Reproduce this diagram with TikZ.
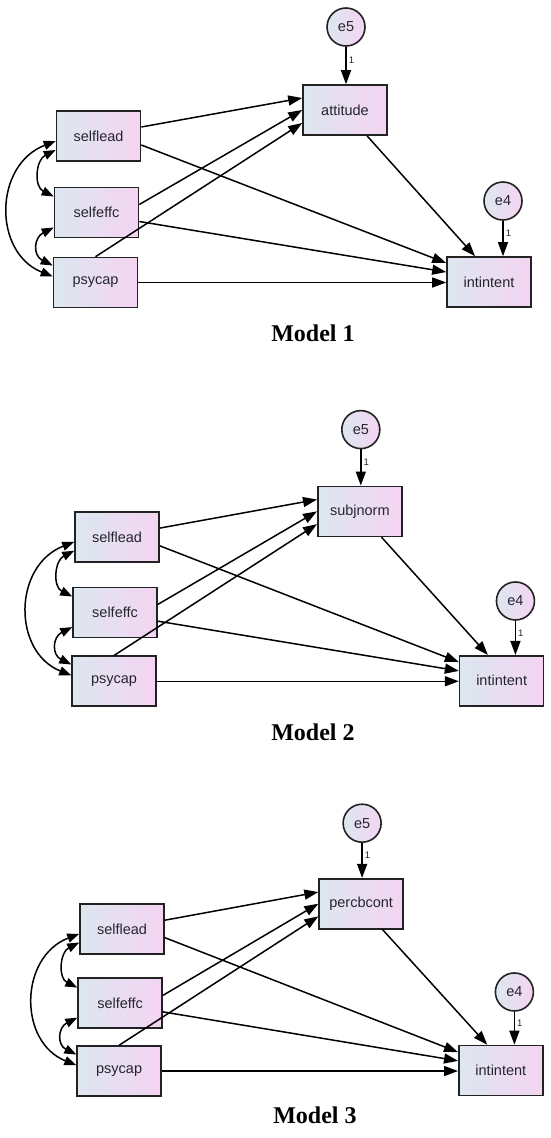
\documentclass[tikz,border=0pt]{standalone}
\usepackage{fontspec}
\setmainfont{Liberation Sans}
\newfontfamily\ttlfont{Liberation Serif}
\usetikzlibrary{arrows.meta}
\definecolor{semL}{HTML}{DDE7F0}
\definecolor{semR}{HTML}{F4D4F2}
\definecolor{semB}{HTML}{222222}
\definecolor{semT}{HTML}{25252F}
\tikzset{
 semvar/.style={draw=semB, line width=1.6pt, left color=semL, right color=semR,
   minimum width=84pt, minimum height=50pt, inner sep=0pt,
   font=\fontsize{14.5}{16}\selectfont, text=semT},
 semerr/.style={circle, draw=semB, line width=1.6pt, left color=semL, right color=semR,
   minimum size=38pt, inner sep=0pt, font=\fontsize{14.5}{16}\selectfont, text=semT},
 reg/.style={line width=1.5pt, -{Triangle[length=14pt,width=10pt]}},
 cov/.style={line width=1.5pt, {Triangle[length=12pt,width=9pt]}-{Triangle[length=12pt,width=9pt]}},
 one/.style={font=\fontsize{9.5}{10}\selectfont, right, inner sep=2pt, pos=0.36, text=semT},
 ttl/.style={font=\ttlfont\bfseries\fontsize{24}{26}\selectfont}
}
\newcommand{\semmodel}[2]{%
  \node[semvar] (#1sl) at (98.5,136) {selflead};
  \node[semvar] (#1se) at (96.5,212.5) {selfeffc};
  \node[semvar] (#1ps) at (95.5,282.5) {psycap};
  \node[semvar] (#1med) at (345,110) {#2};
  \node[semvar] (#1ii) at (489,282) {intintent};
  \node[semerr] (#1e5) at (346,27) {e5};
  \node[semerr] (#1e4) at (503,201) {e4};
  \draw[reg] (#1e5.south) -- (#1e5.south |- #1med.north) node[one] {1};
  \draw[reg] (#1e4.south) -- (#1e4.south |- #1ii.north) node[one] {1};
  \draw[reg] ([yshift=9pt]#1sl.east) -- ([yshift=12pt]#1med.west);
  \draw[reg] ([yshift=-9pt]#1sl.east) -- ([yshift=19pt]#1ii.west);
  \draw[reg] ([yshift=8pt]#1se.east) -- (#1med.west);
  \draw[reg] ([yshift=-9pt]#1se.east) -- ([yshift=10pt]#1ii.west);
  \draw[reg] (#1ps.north) -- ([yshift=-13pt]#1med.west);
  \draw[reg] (#1ps.east) -- (#1ps.east -| #1ii.west);
  \draw[reg] ([xshift=22pt]#1med.south) -- ([xshift=-14pt]#1ii.north);
  \draw[cov] ([yshift=-14pt]#1sl.west) .. controls +(-20,10) and +(-20,-10) .. ([yshift=16pt]#1se.west);
  \draw[cov] ([yshift=-15pt]#1se.west) .. controls +(-20,10) and +(-20,-10) .. ([yshift=17pt]#1ps.west);
  \draw[cov] ([yshift=-5pt]#1sl.west) .. controls +(-62,24) and +(-60,-24) .. ([yshift=6pt]#1ps.west);
}
\begin{document}
\begin{tikzpicture}[x=1pt,y=-1pt]
\useasboundingbox (0,0) rectangle (550,1138);
\semmodel{a}{attitude}
\begin{scope}[shift={(20,403)},scale=0.985]
\semmodel{b}{subjnorm}
\end{scope}
\begin{scope}[shift={(26.5,797)},scale=0.97]
\semmodel{c}{percbcont}
\end{scope}
\node[ttl] (t1) at (313,333) {Model 1};
\node[ttl] (t2) at (313,732) {Model 2};
\node[ttl] (t3) at (315,1115) {Model 3};
\end{tikzpicture}
\end{document}
